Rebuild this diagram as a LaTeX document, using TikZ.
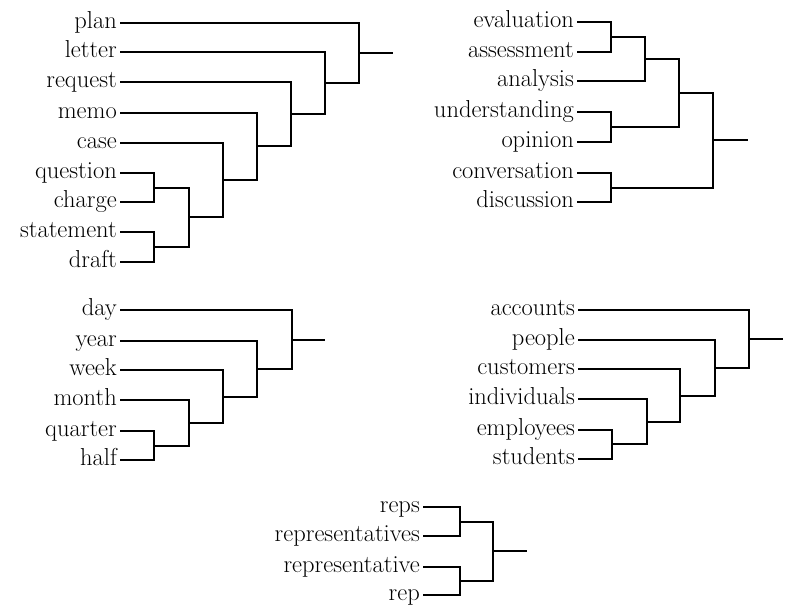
\documentclass[tikz,border=0pt]{standalone}
\begin{document}
\begin{tikzpicture}[x=1pt, y={(0,-1pt)}, line width=1.4pt,
    word/.style={anchor=east, inner xsep=2.5pt, inner ysep=0pt,
        text height=10.5pt, text depth=0pt,
        font=\fontsize{24.5}{29}\selectfont}]
    \useasboundingbox (0,0) rectangle (788,605);

    % nouns for documents
    \foreach \w/\y in {plan/23, letter/52, request/82, memo/113, case/143,
                       question/173, charge/202, statement/232, draft/262} {
        \node[word] (\w) at (120,\y) {\w};
    }
    \coordinate (a1) at (154,188);
    \coordinate (a2) at (154,247);
    \coordinate (a3) at (189,217);
    \coordinate (a4) at (223,180);
    \coordinate (a5) at (257,146);
    \coordinate (a6) at (291,114);
    \coordinate (a7) at (325,83);
    \coordinate (a8) at (359,53);
    \coordinate (aroot) at (393,53);
    \draw (question.east) -| (a1) |- (charge.east);
    \draw (statement.east) -| (a2) |- (draft.east);
    \draw (a1) -| (a3) |- (a2);
    \draw (case.east) -| (a4) |- (a3);
    \draw (memo.east) -| (a5) |- (a4);
    \draw (request.east) -| (a6) |- (a5);
    \draw (letter.east) -| (a7) |- (a6);
    \draw (plan.east) -| (a8) |- (a7);
    \draw (a8) -- (aroot);

    % nouns for opinions
    \foreach \w/\y in {evaluation/22, assessment/52, analysis/81, understanding/112,
                       opinion/142, conversation/173, discussion/202} {
        \node[word] (\w) at (577,\y) {\w};
    }
    \coordinate (b1) at (611,37);
    \coordinate (b2) at (645,59);
    \coordinate (b3) at (611,127);
    \coordinate (b4) at (679,93);
    \coordinate (b5) at (611,188);
    \coordinate (b6) at (713,140);
    \coordinate (broot) at (748,140);
    \draw (evaluation.east) -| (b1) |- (assessment.east);
    \draw (b1) -| (b2) |- (analysis.east);
    \draw (understanding.east) -| (b3) |- (opinion.east);
    \draw (b2) -| (b4) |- (b3);
    \draw (conversation.east) -| (b5) |- (discussion.east);
    \draw (b4) -| (b6) |- (b5);
    \draw (b6) -- (broot);

    % time spans
    \foreach \w/\y in {day/310, year/341, week/370, month/400, quarter/431, half/460} {
        \node[word] (\w) at (120,\y) {\w};
    }
    \coordinate (c1) at (154,446);
    \coordinate (c2) at (189,423);
    \coordinate (c3) at (223,397);
    \coordinate (c4) at (257,369);
    \coordinate (c5) at (292,340);
    \coordinate (croot) at (325,340);
    \draw (quarter.east) -| (c1) |- (half.east);
    \draw (month.east) -| (c2) |- (c1);
    \draw (week.east) -| (c3) |- (c2);
    \draw (year.east) -| (c4) |- (c3);
    \draw (day.east) -| (c5) |- (c4);
    \draw (c5) -- (croot);

    % groups of persons
    \foreach \w/\y in {accounts/310, people/340, customers/369, individuals/399,
                       employees/430, students/459} {
        \node[word] (\w) at (578,\y) {\w};
    }
    \coordinate (d1) at (612,444);
    \coordinate (d2) at (647,422);
    \coordinate (d3) at (680,396);
    \coordinate (d4) at (715,368);
    \coordinate (d5) at (749,339);
    \coordinate (droot) at (783,339);
    \draw (employees.east) -| (d1) |- (students.east);
    \draw (individuals.east) -| (d2) |- (d1);
    \draw (customers.east) -| (d3) |- (d2);
    \draw (people.east) -| (d4) |- (d3);
    \draw (accounts.east) -| (d5) |- (d4);
    \draw (d5) -- (droot);

    % spellings of rep
    \foreach \w/\y in {reps/507, representatives/536, representative/567, rep/595} {
        \node[word] (\w) at (423,\y) {\w};
    }
    \coordinate (e1) at (460,522);
    \coordinate (e2) at (460,581);
    \coordinate (e3) at (493,551);
    \coordinate (eroot) at (527,551);
    \draw (reps.east) -| (e1) |- (representatives.east);
    \draw (representative.east) -| (e2) |- (rep.east);
    \draw (e1) -| (e3) |- (e2);
    \draw (e3) -- (eroot);
\end{tikzpicture}
\end{document}
